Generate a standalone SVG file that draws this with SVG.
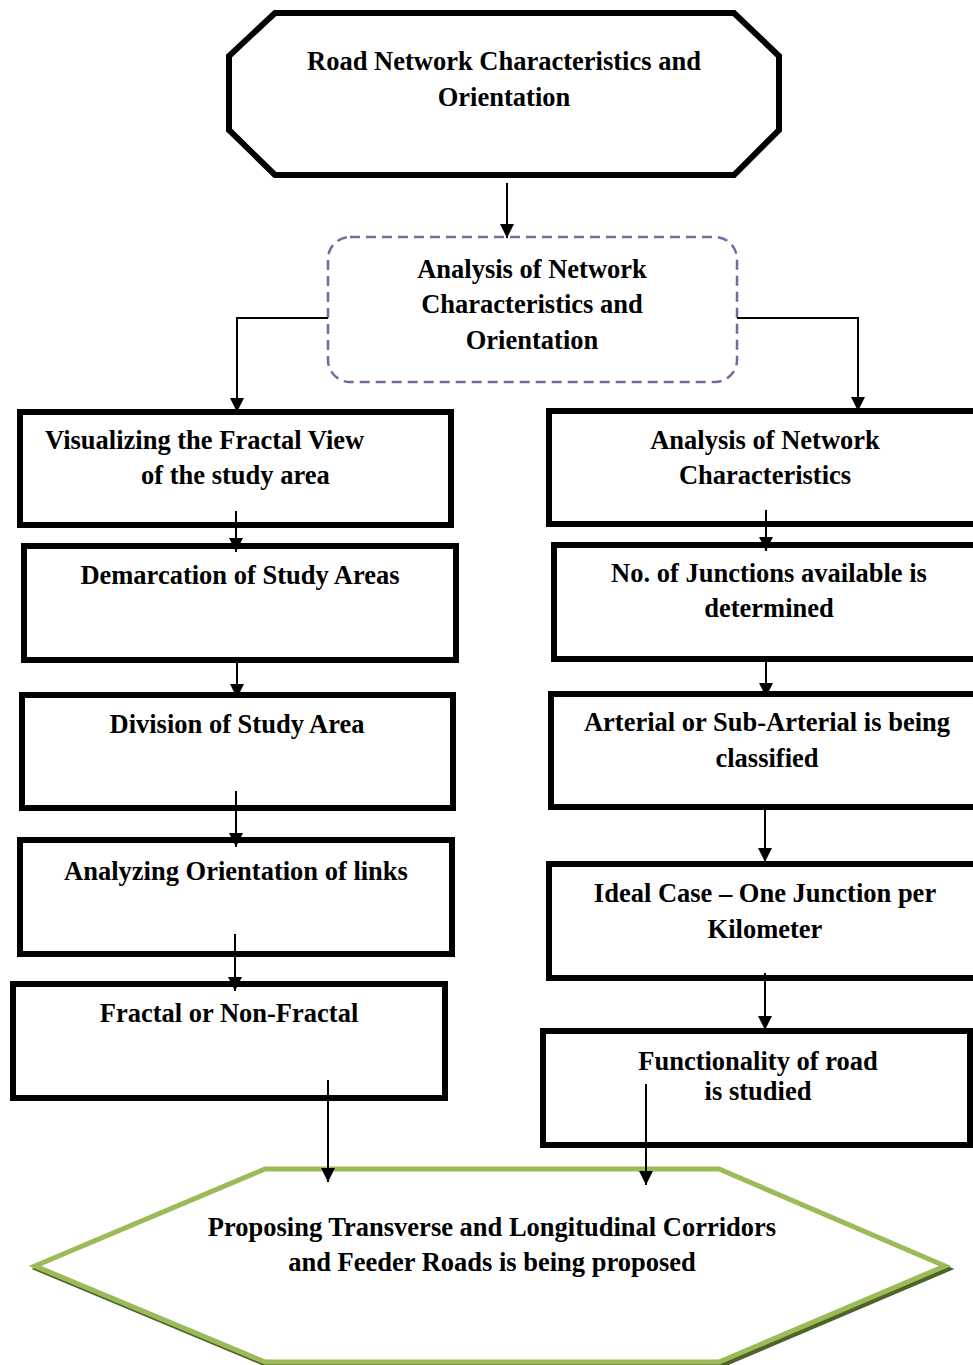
<svg xmlns="http://www.w3.org/2000/svg" width="973" height="1365" viewBox="0 0 973 1365">
<style>
  .box { fill: #ffffff; stroke: #000000; stroke-width: 6; }
  .lbl { font-family: "Liberation Serif", "Times New Roman", serif; font-weight: bold; font-size: 26.5px; fill: #000000; }
  .c { text-anchor: middle; }
  .conn { fill: none; stroke: #000000; stroke-width: 2; marker-end: url(#arr); }
</style>
<defs>
  <marker id="arr" markerUnits="userSpaceOnUse" markerWidth="14" markerHeight="14" viewBox="0 0 12 12" refX="12" refY="6" orient="auto">
    <path d="M0,0 L12,6 L0,12 z" fill="#000000"/>
  </marker>
</defs>
<rect x="0" y="0" width="973" height="1365" fill="#ffffff"/>

<g id="n-top">
  <polygon class="box" points="275,13 734,13 779,56 779,130 734,175 275,175 229,130 229,56"/>
  <text class="lbl c" x="504" y="70">Road Network Characteristics and</text>
  <text class="lbl c" x="504" y="106">Orientation</text>
</g>

<g id="n-analysis">
  <rect x="328" y="237" width="409" height="145" rx="22" ry="22" fill="#ffffff" stroke="#8064A2" stroke-width="2.5" stroke-dasharray="10,6"/>
  <text class="lbl c" x="532" y="278">Analysis of Network</text>
  <text class="lbl c" x="532" y="313">Characteristics and</text>
  <text class="lbl c" x="532" y="349">Orientation</text>
</g>

<g id="n-visual">
  <rect class="box" x="20" y="412" width="431" height="113"/>
  <text class="lbl" x="45" y="449">Visualizing the Fractal View</text>
  <text class="lbl" x="141" y="484">of the study area</text>
</g>

<g id="n-demarc">
  <rect class="box" x="24" y="546" width="432" height="114"/>
  <text class="lbl c" x="240" y="584">Demarcation of Study Areas</text>
</g>

<g id="n-division">
  <rect class="box" x="22" y="695" width="431" height="113"/>
  <text class="lbl c" x="237" y="733">Division of Study Area</text>
</g>

<g id="n-orient">
  <rect class="box" x="20" y="840" width="432" height="114"/>
  <text class="lbl c" x="236" y="880">Analyzing Orientation of links</text>
</g>

<g id="n-fractal">
  <rect class="box" x="13" y="984" width="432" height="114"/>
  <text class="lbl c" x="229" y="1022">Fractal or Non-Fractal</text>
</g>

<g id="n-netchar">
  <rect class="box" x="549" y="411" width="432" height="113"/>
  <text class="lbl c" x="765" y="449">Analysis of Network</text>
  <text class="lbl c" x="765" y="484">Characteristics</text>
</g>

<g id="n-junctions">
  <rect class="box" x="554" y="545" width="432" height="114"/>
  <text class="lbl c" x="769" y="582">No. of Junctions available is</text>
  <text class="lbl c" x="769" y="617">determined</text>
</g>

<g id="n-arterial">
  <rect class="box" x="551" y="694" width="432" height="113"/>
  <text class="lbl c" x="767" y="731">Arterial or Sub-Arterial is being</text>
  <text class="lbl c" x="767" y="767">classified</text>
</g>

<g id="n-ideal">
  <rect class="box" x="549" y="864" width="432" height="114"/>
  <text class="lbl c" x="765" y="902">Ideal Case – One Junction per</text>
  <text class="lbl c" x="765" y="938">Kilometer</text>
</g>

<g id="n-function">
  <rect class="box" x="543" y="1031" width="427" height="114"/>
  <text class="lbl c" x="758" y="1070">Functionality of road</text>
  <text class="lbl c" x="758" y="1100">is studied</text>
</g>

<g id="n-proposing">
  <polygon points="268,1172 722,1172 948,1269 722,1365 268,1365 38,1269" fill="none" stroke="#4F6228" stroke-width="5"/>
  <polygon points="265,1169 719,1169 945,1266 719,1362 265,1362 35,1266" fill="#ffffff" stroke="#9BBB59" stroke-width="5"/>
  <text class="lbl c" x="492" y="1236">Proposing Transverse and Longitudinal Corridors</text>
  <text class="lbl c" x="492" y="1271">and Feeder Roads is being proposed</text>
</g>

<g id="connectors">
  <line class="conn" x1="507" y1="183" x2="507" y2="238"/>
  <polyline class="conn" points="328,318 237,318 237,412"/>
  <polyline class="conn" points="737,318 858,318 858,411"/>
  <line class="conn" x1="236" y1="511" x2="236" y2="552"/>
  <line class="conn" x1="237" y1="662" x2="237" y2="698"/>
  <line class="conn" x1="236" y1="791" x2="236" y2="847"/>
  <line class="conn" x1="235" y1="934" x2="235" y2="991"/>
  <line class="conn" x1="328" y1="1080" x2="328" y2="1182"/>
  <line class="conn" x1="766" y1="510" x2="766" y2="551"/>
  <line class="conn" x1="766" y1="661" x2="766" y2="697"/>
  <line class="conn" x1="765" y1="810" x2="765" y2="862"/>
  <line class="conn" x1="765" y1="973" x2="765" y2="1030"/>
  <line class="conn" x1="646" y1="1084" x2="646" y2="1185"/>
</g>
</svg>
